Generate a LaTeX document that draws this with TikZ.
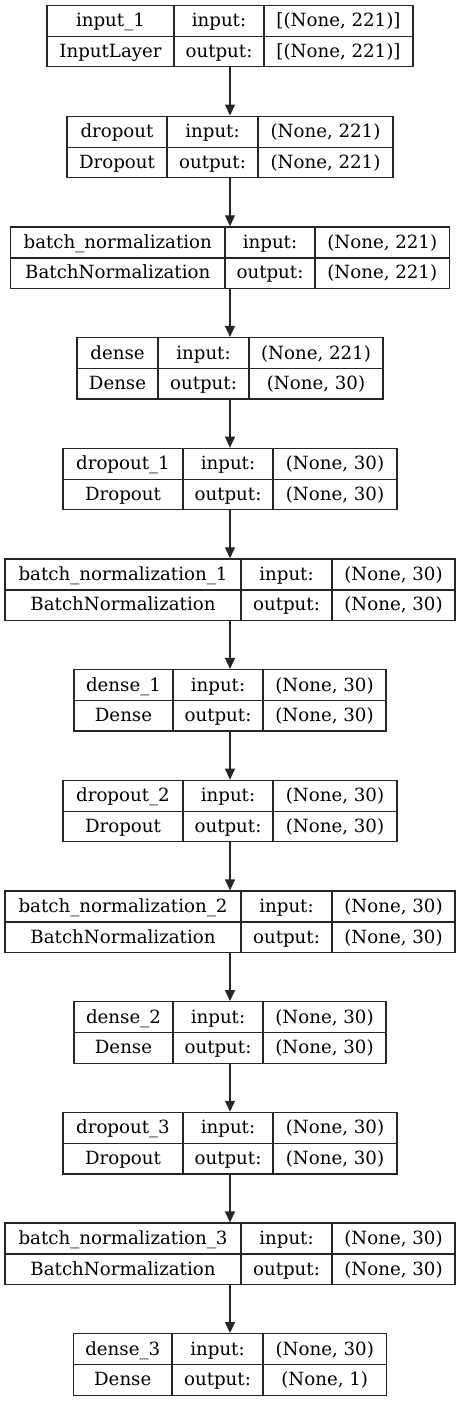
\documentclass[tikz,border=0pt]{standalone}
\usepackage{fontspec}
\setmainfont{DejaVu Serif}
\usetikzlibrary{arrows.meta}
\tikzset{
  layerbox/.style={draw=black!85, line width=1.3pt, inner sep=0pt, rectangle},
  cellline/.style={draw=black!85, line width=1.3pt},
  celltext/.style={inner sep=0pt, anchor=base, font=\fontsize{18.2}{20}\selectfont},
  flow/.style={draw=black!85, line width=1.3pt, -{Triangle[length=11pt,width=10pt]}}
}
% #1 node name, #2 top, #3 half width, #4 x of first divider, #5 x of second divider,
% #6 layer name, #7 class, #8 input shape, #9 output shape
\newcommand\kerasLayer[9]{%
  \node[layerbox, minimum width={2*#3 pt}, minimum height=61.5pt] (#1) at (230,{#2+30.75}) {};
  \draw[cellline] (#1.west |- 0,{#2+31}) -- (#1.east |- 0,{#2+31});
  \draw[cellline] (#4,{#2}) -- (#4,{#2+61.5});
  \draw[cellline] (#5,{#2}) -- (#5,{#2+61.5});
  \node[celltext] (#1-name) at ({(230-#3+#4)/2},{#2+21.5}) {#6};
  \node[celltext] (#1-in)   at ({(#4+#5)/2},{#2+21.5}) {input:};
  \node[celltext] (#1-ins)  at ({(#5+230+#3)/2},{#2+21.5}) {#8};
  \node[celltext] (#1-cls)  at ({(230-#3+#4)/2},{#2+52}) {#7};
  \node[celltext] (#1-out)  at ({(#4+#5)/2},{#2+52}) {output:};
  \node[celltext] (#1-outs) at ({(#5+230+#3)/2},{#2+52}) {#9};
}
\begin{document}
\begin{tikzpicture}[x=1pt,y=-1pt]
\useasboundingbox (0,0) rectangle (460,1401);
\kerasLayer{L1}{5.3}{183}{174}{264}{input\_1}{InputLayer}{[(None, 221)]}{[(None, 221)]}
\kerasLayer{L2}{116.2}{163}{167}{258}{dropout}{Dropout}{(None, 221)}{(None, 221)}
\kerasLayer{L3}{226.9}{219.5}{225}{315}{batch\_normalization}{BatchNormalization}{(None, 221)}{(None, 221)}
\kerasLayer{L4}{337.6}{153}{158}{249}{dense}{Dense}{(None, 221)}{(None, 30)}
\kerasLayer{L5}{448.3}{167}{183}{273}{dropout\_1}{Dropout}{(None, 30)}{(None, 30)}
\kerasLayer{L6}{558.9}{225}{241}{332}{batch\_normalization\_1}{BatchNormalization}{(None, 30)}{(None, 30)}
\kerasLayer{L7}{669.6}{156}{173}{263}{dense\_1}{Dense}{(None, 30)}{(None, 30)}
\kerasLayer{L8}{780.3}{167}{183}{273}{dropout\_2}{Dropout}{(None, 30)}{(None, 30)}
\kerasLayer{L9}{891.0}{225}{241}{332}{batch\_normalization\_2}{BatchNormalization}{(None, 30)}{(None, 30)}
\kerasLayer{L10}{1001.7}{156}{173}{263}{dense\_2}{Dense}{(None, 30)}{(None, 30)}
\kerasLayer{L11}{1112.4}{167}{183}{273}{dropout\_3}{Dropout}{(None, 30)}{(None, 30)}
\kerasLayer{L12}{1223.0}{225}{241}{332}{batch\_normalization\_3}{BatchNormalization}{(None, 30)}{(None, 30)}
\kerasLayer{L13}{1333.7}{156.5}{172}{263}{dense\_3}{Dense}{(None, 30)}{(None, 1)}
\foreach \a/\b in {L1/L2,L2/L3,L3/L4,L4/L5,L5/L6,L6/L7,L7/L8,L8/L9,L9/L10,L10/L11,L11/L12,L12/L13}
  \draw[flow] (\a.south) -- (\b.north);
\end{tikzpicture}
\end{document}
